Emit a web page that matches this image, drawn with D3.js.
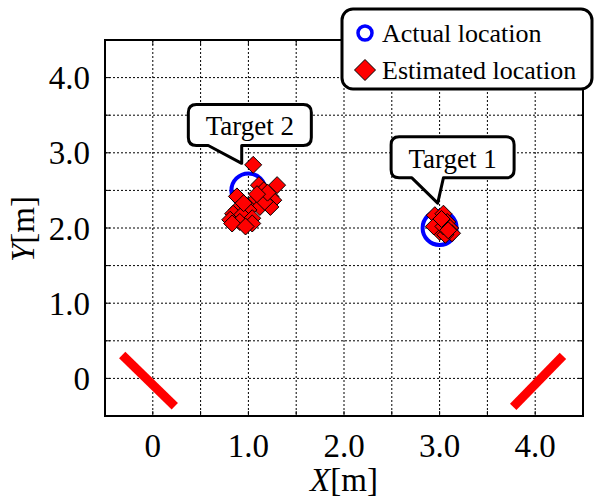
<!DOCTYPE html>
<html>
<head>
<meta charset="utf-8">
<script src="https://cdn.jsdelivr.net/npm/d3@7"></script>
<style>
  body { margin: 0; background: #fff; }
  svg text { font-family: "Liberation Serif", "Times New Roman", Times, serif; fill: #000; }
</style>
</head>
<body>
<div id="chart"></div>
<script>
// ---- data (metres) ----
const xTicks = [0, 1, 2, 3, 4];
const yTicks = [0, 1, 2, 3, 4];
const tickLabels = ["0", "1.0", "2.0", "3.0", "4.0"];

const actualX = [3.0, 1.0];
const actualY = [2.0, 2.5];

// estimated locations around target 1
const est1X = [2.95, 3.04, 2.99, 3.08, 3.11, 3.00, 3.13, 3.06, 2.94, 3.04, 3.02, 3.09];
const est1Y = [2.17, 2.19, 2.06, 2.08, 2.00, 1.95, 1.93, 1.91, 2.02, 2.02, 2.12, 1.97];

// estimated locations around target 2
const est2X = [1.05, 1.30, 1.11, 0.88, 1.16, 1.23, 1.26, 1.07, 0.98, 1.12, 0.88, 1.00,
               0.84, 0.93, 0.81, 1.04, 0.91, 1.04, 0.83, 0.97, 1.23, 1.17, 1.20, 1.09, 0.95];
const est2Y = [2.84, 2.57, 2.57, 2.42, 2.50, 2.42, 2.37, 2.37, 2.30, 2.28, 2.24, 2.24,
               2.19, 2.17, 2.11, 2.13, 2.08, 2.06, 2.06, 2.02, 2.28, 2.35, 2.47, 2.45, 2.33];

// red bars (sensors) as segments [x1, y1, x2, y2]
const sensorA = [-0.32, 0.31, 0.23, -0.37];
const sensorB = [3.77, -0.38, 4.29, 0.30];

const callouts = [
  { label: "Target 2", cx: 1.015, cy: 3.37, tipX: 0.93, tipY: 2.86, baseX: [0.58, 0.93] },
  { label: "Target 1", cx: 3.136, cy: 2.94, tipX: 2.98, tipY: 2.33, baseX: [2.71, 3.04] }
];

// ---- layout ----
const W = 597, H = 498;
const margin = { top: 40, right: 14, bottom: 82, left: 105 };
const innerW = W - margin.left - margin.right;
const innerH = H - margin.top - margin.bottom;

const svg = d3.select("#chart").append("svg")
  .attr("width", W).attr("height", H)
  .attr("font-family", "'Liberation Serif', 'Times New Roman', Times, serif");

const x = d3.scaleLinear().domain([-0.5, 4.5]).range([0, innerW]);
const y = d3.scaleLinear().domain([-0.5, 4.5]).range([innerH, 0]);

const g = svg.append("g")
  .attr("transform", "translate(" + margin.left + "," + margin.top + ")");

// grid every 0.5 m
const gridVals = d3.range(0, 4.01, 0.5);
g.selectAll(".gx").data(gridVals).enter().append("line")
  .attr("x1", d => x(d)).attr("x2", d => x(d))
  .attr("y1", 0).attr("y2", innerH)
  .attr("stroke", "#000").attr("stroke-width", 1).attr("stroke-dasharray", "2,2");
g.selectAll(".gy").data(gridVals).enter().append("line")
  .attr("y1", d => y(d)).attr("y2", d => y(d))
  .attr("x1", 0).attr("x2", innerW)
  .attr("stroke", "#000").attr("stroke-width", 1).attr("stroke-dasharray", "2,2");

// inward ticks
const tickLen = 5;
gridVals.forEach(v => {
  g.append("line").attr("x1", x(v)).attr("x2", x(v)).attr("y1", innerH).attr("y2", innerH - tickLen).attr("stroke", "#000");
  g.append("line").attr("x1", x(v)).attr("x2", x(v)).attr("y1", 0).attr("y2", tickLen).attr("stroke", "#000");
  g.append("line").attr("y1", y(v)).attr("y2", y(v)).attr("x1", 0).attr("x2", tickLen).attr("stroke", "#000");
  g.append("line").attr("y1", y(v)).attr("y2", y(v)).attr("x1", innerW).attr("x2", innerW - tickLen).attr("stroke", "#000");
});

// frame
g.append("rect").attr("width", innerW).attr("height", innerH)
  .attr("fill", "none").attr("stroke", "#000").attr("stroke-width", 2);

// tick labels
g.selectAll(".xl").data(xTicks).enter().append("text")
  .attr("x", d => x(d)).attr("y", innerH + 41)
  .attr("text-anchor", "middle").attr("font-size", 33)
  .text((d, i) => tickLabels[i]);
g.selectAll(".yl").data(yTicks).enter().append("text")
  .attr("x", -15).attr("y", d => y(d)).attr("dy", "0.35em")
  .attr("text-anchor", "end").attr("font-size", 33)
  .text((d, i) => tickLabels[i]);

// axis titles
const xt = svg.append("text").attr("x", margin.left + x(2)).attr("y", 491)
  .attr("text-anchor", "middle").attr("font-size", 33);
xt.append("tspan").attr("font-style", "italic").text("X");
xt.append("tspan").text("[m]");
const yt = svg.append("text").attr("transform", "translate(34,229) rotate(-90)")
  .attr("text-anchor", "middle").attr("font-size", 33);
yt.append("tspan").attr("font-style", "italic").text("Y");
yt.append("tspan").text("[m]");

// sensors
[sensorA, sensorB].forEach(s => {
  g.append("line")
    .attr("x1", x(s[0])).attr("y1", y(s[1]))
    .attr("x2", x(s[2])).attr("y2", y(s[3]))
    .attr("stroke", "#ff0000").attr("stroke-width", 9);
});

// actual locations
g.selectAll(".actual").data(d3.zip(actualX, actualY)).enter().append("circle")
  .attr("cx", d => x(d[0])).attr("cy", d => y(d[1])).attr("r", 17)
  .attr("fill", "none").attr("stroke", "#0000ff").attr("stroke-width", 4);

// estimated locations
const diamond = s => "M0," + (-s) + "L" + s + ",0L0," + s + "L" + (-s) + ",0Z";
const est = d3.zip(est1X, est1Y).concat(d3.zip(est2X, est2Y));
g.selectAll(".est").data(est).enter().append("path")
  .attr("d", diamond(8.5))
  .attr("transform", d => "translate(" + x(d[0]) + "," + y(d[1]) + ")")
  .attr("fill", "#ff0000").attr("stroke", "#000").attr("stroke-width", 1);

// callouts
const boxW = 123, boxH = 41;
callouts.forEach(c => {
  const cx = x(c.cx), cy = y(c.cy);
  const l = cx - boxW / 2, t = cy - boxH / 2, r = cx + boxW / 2, b = cy + boxH / 2, rad = 8;
  const b0 = x(c.baseX[0]), b1 = x(c.baseX[1]);
  const p = d3.path();
  p.moveTo(l + rad, t);
  p.lineTo(r - rad, t); p.quadraticCurveTo(r, t, r, t + rad);
  p.lineTo(r, b - rad); p.quadraticCurveTo(r, b, r - rad, b);
  p.lineTo(b1, b); p.lineTo(x(c.tipX), y(c.tipY)); p.lineTo(b0, b);
  p.lineTo(l + rad, b); p.quadraticCurveTo(l, b, l, b - rad);
  p.lineTo(l, t + rad); p.quadraticCurveTo(l, t, l + rad, t);
  p.closePath();
  g.append("path").attr("d", p.toString())
    .attr("fill", "#fff").attr("stroke", "#000").attr("stroke-width", 3)
    .attr("stroke-linejoin", "round");
  g.append("text").attr("x", cx).attr("y", cy + 1).attr("dy", "0.35em")
    .attr("text-anchor", "middle").attr("font-size", 27).text(c.label);
});

// legend
const leg = svg.append("g").attr("transform", "translate(342,9)");
leg.append("rect").attr("width", 250).attr("height", 80).attr("rx", 11)
  .attr("fill", "#fff").attr("stroke", "#000").attr("stroke-width", 3);
leg.append("circle").attr("cx", 23).attr("cy", 24).attr("r", 7)
  .attr("fill", "none").attr("stroke", "#0000ff").attr("stroke-width", 3.5);
leg.append("path").attr("d", diamond(10.5)).attr("transform", "translate(23,61)")
  .attr("fill", "#ff0000").attr("stroke", "#000").attr("stroke-width", 1);
leg.append("text").attr("x", 40).attr("y", 24).attr("dy", "0.35em")
  .attr("font-size", 26).text("Actual location");
leg.append("text").attr("x", 40).attr("y", 61).attr("dy", "0.35em")
  .attr("font-size", 26).text("Estimated location");
</script>
</body>
</html>
